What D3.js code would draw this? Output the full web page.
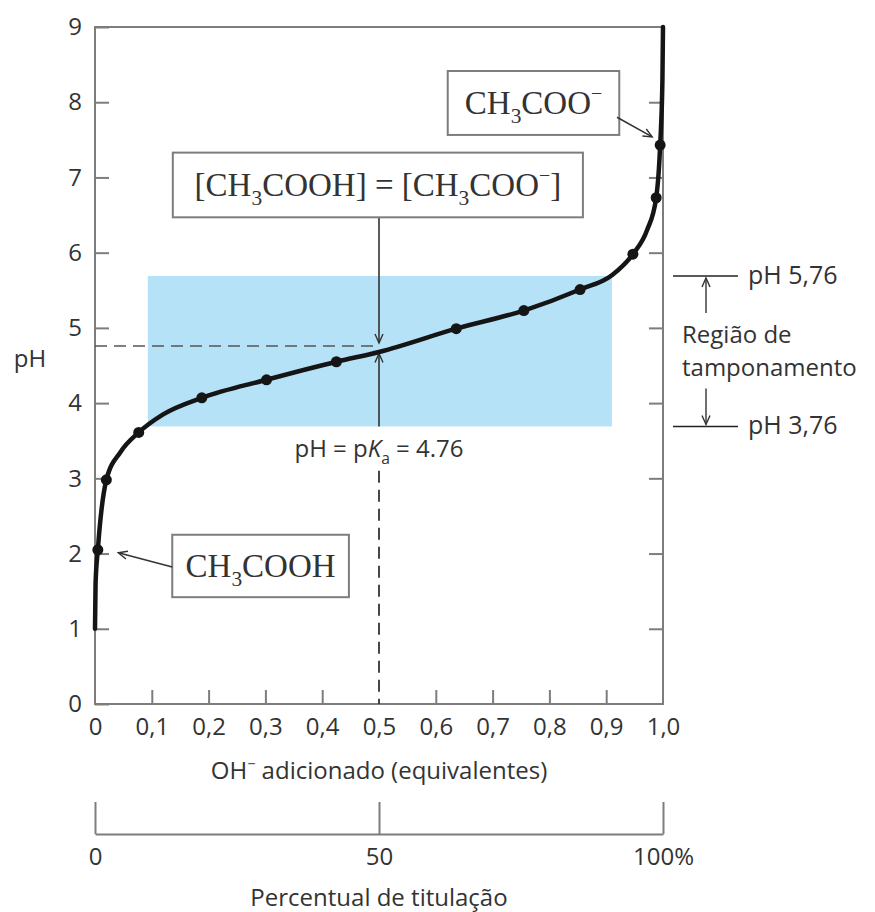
<!DOCTYPE html>
<html>
<head>
<meta charset="utf-8">
<script src="https://cdn.jsdelivr.net/npm/d3@7"></script>
<style>
  body { margin: 0; background: #fff; }
  text { font-family: "Open Sans", "Noto Sans", sans-serif; fill: #333; }
  .serif { font-family: "Liberation Serif", "DejaVu Serif", serif; }
</style>
</head>
<body>
<div id="chart-container"></div>
<script>
// titration curve of acetic acid
const curveEq = [0, 0.001, 0.005, 0.02, 0.045, 0.077, 0.12, 0.188, 0.302, 0.425, 0.5, 0.636, 0.755, 0.854, 0.91, 0.947, 0.972, 0.988, 0.995, 0.999, 1.0];
const curvePH = [1.0, 1.6, 2.05, 2.98, 3.35, 3.61, 3.85, 4.07, 4.31, 4.55, 4.68, 4.99, 5.23, 5.51, 5.70, 5.98, 6.3, 6.73, 7.43, 8.3, 9.0];

// measured points (dots)
const dotEq = [0.005, 0.02, 0.077, 0.188, 0.302, 0.425, 0.636, 0.755, 0.854, 0.947, 0.988, 0.995];
const dotPH = [2.05, 2.98, 3.61, 4.07, 4.31, 4.55, 4.99, 5.23, 5.51, 5.98, 6.73, 7.43];

const yTicks = [0, 1, 2, 3, 4, 5, 6, 7, 8, 9];
const xTicks = [0, 0.1, 0.2, 0.3, 0.4, 0.5, 0.6, 0.7, 0.8, 0.9, 1.0];
const xTickLabels = ["0", "0,1", "0,2", "0,3", "0,4", "0,5", "0,6", "0,7", "0,8", "0,9", "1,0"];
const pctTicks = [0, 50, 100];
const pctTickLabels = ["0", "50", "100%"];

const pKa = 4.76;
const bufferRegion = [3.69, 5.69];   // pH 3,76 .. pH 5,76
const bufferEq = [0.093, 0.91];

const width = 875;
const height = 912;
const marginTop = 27;
const marginLeft = 95;
const marginRight = 212;
const plotBottom = 704;

const x = d3.scaleLinear().domain([0, 1]).range([marginLeft, width - marginRight]);
const y = d3.scaleLinear().domain([0, 9]).range([plotBottom, marginTop]);
const pct = d3.scaleLinear().domain([0, 100]).range([marginLeft, width - marginRight]);

const svg = d3.create("svg")
    .attr("width", width)
    .attr("height", height);

const defs = svg.append("defs");
defs.append("marker")
    .attr("id", "arr")
    .attr("viewBox", "-11 -6 13 12")
    .attr("refX", 0).attr("refY", 0)
    .attr("markerWidth", 13).attr("markerHeight", 12)
    .attr("markerUnits", "userSpaceOnUse")
    .attr("orient", "auto")
  .append("path")
    .attr("d", "M-9,-4L0,0L-9,4")
    .attr("fill", "none")
    .attr("stroke", "#333")
    .attr("stroke-width", 1.4);

// text with sub/superscripts: parts = [[str, kind], ...]
function rich(t, parts) {
  let shift = 0;
  parts.forEach(([s, kind]) => {
    const ts = t.append("tspan").text(s);
    let target = 0;
    if (kind === "sub") { target = 0.28; ts.attr("font-size", "0.65em"); }
    if (kind === "sup") { target = -0.42; ts.attr("font-size", "0.6em"); }
    if (kind === "it") ts.attr("font-style", "italic");
    const fs = parseFloat(t.attr("font-size"));
    const dy = (target - shift) * fs;
    if (dy !== 0) ts.attr("dy", dy);
    shift = target;
  });
  return t;
}

// buffer region
svg.append("rect")
    .attr("x", x(bufferEq[0]))
    .attr("y", y(bufferRegion[1]))
    .attr("width", x(bufferEq[1]) - x(bufferEq[0]))
    .attr("height", y(bufferRegion[0]) - y(bufferRegion[1]))
    .attr("fill", "#b5e2f7");

// frame
svg.append("rect")
    .attr("x", x(0)).attr("y", y(9))
    .attr("width", x(1) - x(0)).attr("height", y(0) - y(9))
    .attr("fill", "none")
    .attr("stroke", "#7d7d7d")
    .attr("stroke-width", 2);

// left axis
svg.append("g")
    .attr("transform", `translate(${x(0)},0)`)
    .call(d3.axisLeft(y).tickValues(yTicks).tickSize(-14).tickSizeOuter(0).tickPadding(13).tickFormat(d3.format("d")))
    .call(g => g.select(".domain").remove())
    .call(g => g.selectAll(".tick line").attr("stroke", "#7d7d7d").attr("stroke-width", 2))
    .call(g => g.selectAll(".tick text").attr("font-size", 24).attr("fill", "#333")
        .attr("font-family", "Open Sans, sans-serif"));

// right axis ticks
svg.append("g")
    .attr("transform", `translate(${x(1)},0)`)
    .call(d3.axisRight(y).tickValues(yTicks.slice(1, -1)).tickSize(-14).tickSizeOuter(0).tickFormat(""))
    .call(g => g.select(".domain").remove())
    .call(g => g.selectAll(".tick line").attr("stroke", "#7d7d7d").attr("stroke-width", 2));

// bottom axis
svg.append("g")
    .attr("transform", `translate(0,${y(0)})`)
    .call(d3.axisBottom(x).tickValues(xTicks).tickSize(-14).tickSizeOuter(0).tickPadding(14)
        .tickFormat((d, i) => xTickLabels[i]))
    .call(g => g.select(".domain").remove())
    .call(g => g.selectAll(".tick line")
        .attr("stroke", "#7d7d7d").attr("stroke-width", 2)
        .attr("display", d => (d === 0 || d === 1 || d === 0.5) ? "none" : null))
    .call(g => g.selectAll(".tick text").attr("font-size", 24).attr("fill", "#333")
        .attr("font-family", "Open Sans, sans-serif"));

// percent axis
svg.append("g")
    .attr("transform", `translate(0,834)`)
    .call(d3.axisBottom(pct).tickValues(pctTicks).tickSize(-32).tickSizeOuter(0).tickPadding(14)
        .tickFormat((d, i) => pctTickLabels[i]))
    .call(g => g.select(".domain").attr("stroke", "#7d7d7d").attr("stroke-width", 2))
    .call(g => g.selectAll(".tick line").attr("stroke", "#7d7d7d").attr("stroke-width", 2))
    .call(g => g.selectAll(".tick text").attr("font-size", 24).attr("fill", "#333")
        .attr("font-family", "Open Sans, sans-serif"));

// axis titles
rich(svg.append("text")
    .attr("x", x(0.5)).attr("y", 779)
    .attr("text-anchor", "middle")
    .attr("font-size", 24),
    [["OH", ""], ["\u2212", "sup"], [" adicionado (equivalentes)", ""]]);

svg.append("text")
    .attr("x", x(0.5)).attr("y", 906)
    .attr("text-anchor", "middle")
    .attr("font-size", 24)
    .text("Percentual de titulação");

svg.append("text")
    .attr("x", 30).attr("y", 367)
    .attr("text-anchor", "middle")
    .attr("font-size", 24)
    .text("pH");

// pKa guide lines
svg.append("line")
    .attr("x1", x(0)).attr("x2", x(0.5))
    .attr("y1", y(pKa)).attr("y2", y(pKa))
    .attr("stroke", "#555").attr("stroke-width", 1.6)
    .attr("stroke-dasharray", "12,7");

svg.append("line")
    .attr("x1", x(0.5)).attr("x2", x(0.5))
    .attr("y1", y(3.1)).attr("y2", y(0))
    .attr("stroke", "#333").attr("stroke-width", 1.8)
    .attr("stroke-dasharray", "12,7");

svg.append("line")
    .attr("x1", x(0.5)).attr("x2", x(0.5))
    .attr("y1", y(6.47)).attr("y2", y(pKa + 0.04))
    .attr("stroke", "#333").attr("stroke-width", 1.6)
    .attr("marker-end", "url(#arr)");

svg.append("line")
    .attr("x1", x(0.5)).attr("x2", x(0.5))
    .attr("y1", y(bufferRegion[0])).attr("y2", y(pKa - 0.1))
    .attr("stroke", "#333").attr("stroke-width", 1.6)
    .attr("marker-end", "url(#arr)");

rich(svg.append("text")
    .attr("x", x(0.5)).attr("y", 457)
    .attr("text-anchor", "middle")
    .attr("font-size", 24),
    [["pH = p", ""], ["K", "it"], ["a", "sub"], [" = 4.76", ""]]);

// titration curve
const line = d3.line()
    .x((d, i) => x(curveEq[i]))
    .y(d => y(d))
    .curve(d3.curveMonotoneX);

svg.append("path")
    .attr("d", line(curvePH))
    .attr("fill", "none")
    .attr("stroke", "#151515")
    .attr("stroke-width", 4.5)
    .attr("stroke-linecap", "round");

svg.append("g")
    .selectAll("circle")
    .data(dotPH)
    .join("circle")
    .attr("cx", (d, i) => x(dotEq[i]))
    .attr("cy", d => y(d))
    .attr("r", 5.5)
    .attr("fill", "#151515");

// labelled boxes
const boxes = [
  { eq: [0.137, 0.859], ph: [6.47, 7.33], parts: [["[CH", ""], ["3", "sub"], ["COOH] = [CH", ""], ["3", "sub"], ["COO", ""], ["\u2212", "sup"], ["]", ""]] },
  { eq: [0.621, 0.923], ph: [7.565, 8.415], parts: [["CH", ""], ["3", "sub"], ["COO", ""], ["\u2212", "sup"]] },
  { eq: [0.136, 0.447], ph: [1.42, 2.25], parts: [["CH", ""], ["3", "sub"], ["COOH", ""]] }
];

boxes.forEach(b => {
  svg.append("rect")
      .attr("x", x(b.eq[0])).attr("y", y(b.ph[1]))
      .attr("width", x(b.eq[1]) - x(b.eq[0]))
      .attr("height", y(b.ph[0]) - y(b.ph[1]))
      .attr("fill", "#fff")
      .attr("stroke", "#7d7d7d")
      .attr("stroke-width", 2);
  rich(svg.append("text")
      .attr("class", "serif")
      .attr("x", x((b.eq[0] + b.eq[1]) / 2))
      .attr("y", (y(b.ph[0]) + y(b.ph[1])) / 2 + 11)
      .attr("text-anchor", "middle")
      .attr("font-size", 33),
      b.parts);
});

// box pointers
const pointers = [
  { from: [0.919, 7.80], to: [0.981, 7.54] },
  { from: [0.136, 1.82], to: [0.041, 2.01] }
];
pointers.forEach(p => {
  svg.append("line")
      .attr("x1", x(p.from[0])).attr("y1", y(p.from[1]))
      .attr("x2", x(p.to[0])).attr("y2", y(p.to[1]))
      .attr("stroke", "#333").attr("stroke-width", 1.5)
      .attr("marker-end", "url(#arr)");
});

// buffer region annotation (right side)
const bx = x(1);
bufferRegion.forEach((v, i) => {
  svg.append("line")
      .attr("x1", bx + 10).attr("x2", bx + 75)
      .attr("y1", y(v)).attr("y2", y(v))
      .attr("stroke", "#222").attr("stroke-width", 1.6);
  svg.append("text")
      .attr("x", bx + 85).attr("y", y(v) + 8)
      .attr("font-size", 25)
      .text(i === 0 ? "pH 3,76" : "pH 5,76");
});

svg.append("line")
    .attr("x1", bx + 43).attr("x2", bx + 43)
    .attr("y1", y(bufferRegion[1]) + 37).attr("y2", y(bufferRegion[1]) + 2)
    .attr("stroke", "#333").attr("stroke-width", 1.4)
    .attr("marker-end", "url(#arr)");
svg.append("line")
    .attr("x1", bx + 43).attr("x2", bx + 43)
    .attr("y1", y(bufferRegion[0]) - 38).attr("y2", y(bufferRegion[0]) - 2)
    .attr("stroke", "#333").attr("stroke-width", 1.4)
    .attr("marker-end", "url(#arr)");

svg.append("text")
    .attr("x", bx + 19).attr("y", 343)
    .attr("font-size", 24)
    .text("Região de");
svg.append("text")
    .attr("x", bx + 19).attr("y", 376)
    .attr("font-size", 24)
    .text("tamponamento");

document.getElementById("chart-container").appendChild(svg.node());
</script>
</body>
</html>
